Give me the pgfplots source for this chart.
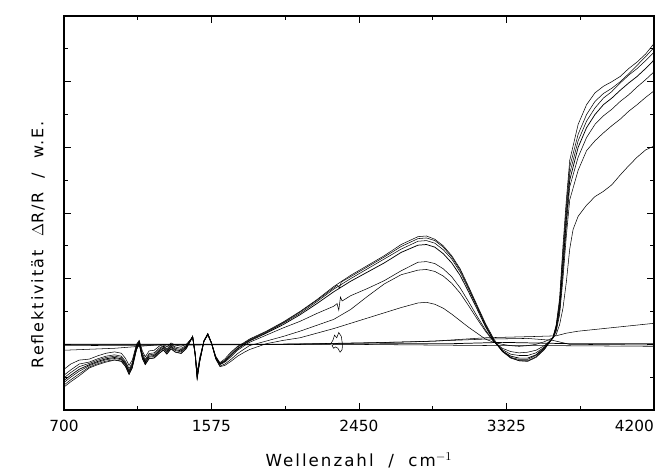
\documentclass[border=0pt]{standalone}
\usepackage{fontspec}
\setmainfont{DejaVu Sans}
\usepackage{pgfplots}
\pgfplotsset{compat=1.18}
\begin{document}
\begin{tikzpicture}
\path[use as bounding box] (-48pt,-46.5pt) rectangle (445.5pt,307.5pt);
\begin{axis}[
  at={(0pt,0pt)}, anchor=south west,
  scale only axis, width=442.5pt, height=295.5pt,
  xmin=700, xmax=4200, ymin=-1, ymax=5,
  xtick={700,1575,2450,3325,4200},
  xticklabels={700,1575,2450,3325,4200\hphantom{4200}},
  minor xtick={1137.5,2012.5,2887.5,3762.5},
  ytick={0,1,2,3,4}, minor ytick={-0.5,0.5,1.5,2.5,3.5,4.5},
  yticklabels={},
  tick align=inside,
  major tick length=5pt, minor tick length=3pt,
  /pgf/number format/assume math mode=true,
  xticklabel style={font=\fontsize{11.5}{13}\selectfont, yshift=-4pt},
  axis line style={line width=0.8pt},
  every tick/.style={black, line width=0.6pt},
  xlabel={Wellenzahl\ \ /\ \ cm$^{-1}$},
  ylabel={Reflektivität\ \ $\Delta$R/R\ \ /\ \ w.E.},
  xlabel style={at={(axis description cs:0.5,-0.127)}, anchor=center, font=\fontsize{12.5}{14}\selectfont\addfontfeature{LetterSpace=12}},
  ylabel style={at={(axis description cs:-0.044,0.42)}, anchor=center, font=\fontsize{12}{14}\selectfont\addfontfeature{LetterSpace=12}},
  cycle list={{black, solid, no markers, line width=0.55pt}},
  clip=true,
]
% c1
\addplot coordinates {(700,-0.65)(740,-0.57)(790,-0.48)(850,-0.36)(900,-0.31)(950,-0.27)(1000,-0.24)(1040,-0.26)(1065,-0.34)(1086,-0.46)(1105,-0.36)(1130,-0.08)(1146,0.01)(1165,-0.22)(1182,-0.31)(1205,-0.22)(1235,-0.21)(1264,-0.14)(1290,-0.09)(1310,-0.15)(1335,-0.07)(1360,-0.12)(1395,-0.14)(1425,-0.07)(1450,0.05)(1463,0.11)(1478,-0.17)(1490,-0.53)(1505,-0.27)(1530,0.04)(1553,0.15)(1575,0.02)(1600,-0.18)(1625,-0.28)(1655,-0.22)(1690,-0.12)(1730,-0.03)(1770,0.03)
(1800,0.08)(1900,0.2)(2000,0.34)(2100,0.5)(2200,0.68)(2300,0.88)(2400,1.05)(2500,1.2)(2600,1.35)(2700,1.52)(2800,1.64)(2850,1.65)(2900,1.6)(2950,1.5)(3000,1.35)(3050,1.15)(3100,0.88)(3150,0.6)(3200,0.32)(3250,0.08)(3300,-0.1)(3350,-0.2)(3400,-0.25)(3450,-0.26)(3500,-0.2)(3550,-0.08)(3600,0.1)(3620,0.3)(3640,0.7)(3660,1.5)(3680,2.2)
(3700,2.8)(3750,3.35)(3800,3.65)(3850,3.83)(3900,3.93)(3950,4.0)(4000,4.08)(4050,4.2)(4100,4.3)(4150,4.42)(4200,4.58)};
% c2
\addplot coordinates {(700,-0.62)(740,-0.54)(790,-0.45)(850,-0.345)(900,-0.295)(950,-0.255)(1000,-0.235)(1040,-0.255)(1065,-0.335)(1086,-0.455)(1105,-0.355)(1130,-0.085)(1146,0.0)(1165,-0.215)(1182,-0.305)(1205,-0.215)(1235,-0.205)(1264,-0.135)(1290,-0.085)(1310,-0.145)(1335,-0.065)(1360,-0.115)(1395,-0.135)(1425,-0.06)(1450,0.05)(1463,0.12)(1478,-0.16)(1490,-0.52)(1505,-0.26)(1530,0.05)(1553,0.16)(1575,0.02)(1600,-0.19)(1625,-0.29)(1655,-0.24)(1690,-0.14)(1730,-0.04)(1770,0.02)
(1800,0.07)(1900,0.19)(2000,0.33)(2100,0.49)(2200,0.67)(2300,0.86)(2320,0.9)(2334,0.86)(2345,0.95)(2400,1.03)(2500,1.18)(2600,1.33)(2700,1.49)(2800,1.61)(2850,1.62)(2900,1.58)(2950,1.48)(3000,1.33)(3050,1.13)(3100,0.86)(3150,0.58)(3200,0.3)(3250,0.06)(3300,-0.11)(3350,-0.21)(3400,-0.25)(3450,-0.25)(3500,-0.19)(3550,-0.07)(3600,0.1)(3620,0.28)(3640,0.65)(3660,1.4)(3680,2.1)
(3700,2.7)(3750,3.2)(3800,3.5)(3850,3.7)(3900,3.82)(3950,3.9)(4000,4.0)(4050,4.12)(4100,4.25)(4150,4.38)(4200,4.52)};
% c3
\addplot coordinates {(700,-0.58)(740,-0.5)(790,-0.41)(850,-0.325)(900,-0.275)(950,-0.235)(1000,-0.215)(1040,-0.235)(1065,-0.315)(1086,-0.435)(1105,-0.335)(1130,-0.065)(1146,0.02)(1165,-0.195)(1182,-0.285)(1205,-0.195)(1235,-0.185)(1264,-0.115)(1290,-0.065)(1310,-0.125)(1335,-0.045)(1360,-0.095)(1395,-0.115)(1425,-0.05)(1450,0.06)(1463,0.12)(1478,-0.15)(1490,-0.5)(1505,-0.25)(1530,0.05)(1553,0.16)(1575,0.02)(1600,-0.2)(1625,-0.3)(1655,-0.25)(1690,-0.16)(1730,-0.06)(1770,0.01)
(1800,0.06)(1900,0.18)(2000,0.32)(2100,0.47)(2200,0.65)(2300,0.84)(2400,1.0)(2500,1.15)(2600,1.3)(2700,1.45)(2800,1.57)(2850,1.58)(2900,1.54)(2950,1.44)(3000,1.3)(3050,1.1)(3100,0.84)(3150,0.57)(3200,0.29)(3250,0.06)(3300,-0.1)(3350,-0.2)(3400,-0.23)(3450,-0.23)(3500,-0.17)(3550,-0.06)(3600,0.1)(3620,0.26)(3640,0.6)(3660,1.3)(3680,2.0)
(3700,2.6)(3750,3.1)(3800,3.4)(3850,3.6)(3900,3.75)(3950,3.85)(4000,3.98)(4050,4.1)(4100,4.2)(4150,4.32)(4200,4.45)};
% c4
\addplot coordinates {(700,-0.55)(740,-0.47)(790,-0.38)(850,-0.31)(900,-0.26)(950,-0.22)(1000,-0.2)(1040,-0.22)(1065,-0.3)(1086,-0.42)(1105,-0.32)(1130,-0.05)(1146,0.03)(1165,-0.18)(1182,-0.27)(1205,-0.18)(1235,-0.17)(1264,-0.1)(1290,-0.05)(1310,-0.11)(1335,-0.03)(1360,-0.08)(1395,-0.1)(1425,-0.04)(1450,0.06)(1463,0.12)(1478,-0.15)(1490,-0.5)(1505,-0.25)(1530,0.05)(1553,0.16)(1575,0.02)(1600,-0.2)(1625,-0.3)(1655,-0.26)(1690,-0.17)(1730,-0.07)(1770,0.0)
(1800,0.05)(1900,0.17)(2000,0.3)(2100,0.45)(2200,0.62)(2300,0.8)(2400,0.96)(2500,1.1)(2600,1.24)(2700,1.4)(2800,1.51)(2850,1.52)(2900,1.48)(2950,1.38)(3000,1.24)(3050,1.05)(3100,0.8)(3150,0.54)(3200,0.27)(3250,0.05)(3300,-0.1)(3350,-0.18)(3400,-0.21)(3450,-0.21)(3500,-0.16)(3550,-0.05)(3600,0.1)(3620,0.25)(3640,0.55)(3660,1.2)(3680,1.9)
(3700,2.5)(3750,3.0)(3800,3.3)(3850,3.5)(3900,3.65)(3950,3.75)(4000,3.87)(4050,3.98)(4100,4.08)(4150,4.2)(4200,4.33)};
% c5
\addplot coordinates {(700,-0.51)(740,-0.43)(790,-0.34)(850,-0.29)(900,-0.24)(950,-0.2)(1000,-0.18)(1040,-0.2)(1065,-0.28)(1086,-0.4)(1105,-0.3)(1130,-0.03)(1146,0.05)(1165,-0.16)(1182,-0.25)(1205,-0.16)(1235,-0.15)(1264,-0.08)(1290,-0.03)(1310,-0.09)(1335,-0.01)(1360,-0.06)(1395,-0.08)(1425,-0.03)(1450,0.06)(1463,0.12)(1478,-0.15)(1490,-0.5)(1505,-0.25)(1530,0.05)(1553,0.16)(1575,0.02)(1600,-0.21)(1625,-0.31)(1655,-0.27)(1690,-0.19)(1730,-0.09)(1770,-0.02)
(1800,0.03)(1900,0.14)(2000,0.25)(2100,0.35)(2200,0.47)(2300,0.58)(2320,0.62)(2330,0.52)(2340,0.72)(2350,0.66)(2400,0.74)(2500,0.85)(2600,0.97)(2700,1.12)(2800,1.25)(2850,1.26)(2900,1.23)(2950,1.15)(3000,1.03)(3050,0.86)(3100,0.65)(3150,0.43)(3200,0.22)(3250,0.04)(3300,-0.08)(3350,-0.15)(3400,-0.17)(3450,-0.17)(3500,-0.13)(3550,-0.04)(3600,0.1)(3620,0.22)(3640,0.5)(3660,1.1)(3680,1.8)
(3700,2.4)(3750,2.85)(3800,3.15)(3850,3.35)(3900,3.48)(3950,3.58)(4000,3.7)(4050,3.8)(4100,3.92)(4150,4.03)(4200,4.15)};
% c6
\addplot coordinates {(700,-0.47)(740,-0.39)(790,-0.3)(850,-0.27)(900,-0.22)(950,-0.18)(1000,-0.16)(1040,-0.18)(1065,-0.26)(1086,-0.37)(1105,-0.28)(1130,-0.02)(1146,0.05)(1165,-0.14)(1182,-0.23)(1205,-0.14)(1235,-0.13)(1264,-0.06)(1290,-0.02)(1310,-0.07)(1335,0.0)(1360,-0.04)(1395,-0.06)(1425,-0.02)(1450,0.07)(1463,0.12)(1478,-0.14)(1490,-0.47)(1505,-0.23)(1530,0.05)(1553,0.15)(1575,0.02)(1600,-0.22)(1625,-0.33)(1655,-0.3)(1690,-0.23)(1730,-0.14)(1770,-0.07)
(1800,-0.02)(1900,0.05)(2000,0.12)(2100,0.2)(2200,0.29)(2300,0.38)(2400,0.53)(2500,0.73)(2600,0.92)(2700,1.06)(2800,1.13)(2850,1.14)(2900,1.11)(2950,1.04)(3000,0.93)(3050,0.78)(3100,0.59)(3150,0.39)(3200,0.2)(3250,0.04)(3300,-0.06)(3350,-0.11)(3400,-0.13)(3450,-0.12)(3500,-0.09)(3550,-0.02)(3600,0.09)(3620,0.2)(3640,0.45)(3660,1.0)(3680,1.65)
(3700,2.2)(3750,2.65)(3800,2.95)(3850,3.1)(3900,3.22)(3950,3.33)(4000,3.43)(4050,3.55)(4100,3.65)(4150,3.76)(4200,3.86)};
% c7
\addplot coordinates {(700,-0.38)(740,-0.3)(790,-0.24)(850,-0.225)(900,-0.175)(950,-0.135)(1000,-0.115)(1040,-0.135)(1065,-0.215)(1086,-0.32)(1105,-0.24)(1130,0.0)(1146,0.06)(1165,-0.1)(1182,-0.19)(1205,-0.1)(1235,-0.09)(1264,-0.03)(1290,0.0)(1310,-0.04)(1335,0.02)(1360,-0.01)(1395,-0.03)(1425,0.0)(1450,0.07)(1463,0.11)(1478,-0.12)(1490,-0.42)(1505,-0.2)(1530,0.05)(1553,0.14)(1575,0.01)(1600,-0.22)(1625,-0.34)(1655,-0.32)(1690,-0.26)(1730,-0.18)(1770,-0.12)
(1800,-0.08)(1900,0.01)(2000,0.06)(2100,0.1)(2200,0.17)(2300,0.24)(2400,0.32)(2500,0.4)(2600,0.48)(2700,0.56)(2800,0.63)(2850,0.64)(2900,0.61)(2950,0.55)(3000,0.46)(3050,0.36)(3100,0.26)(3150,0.17)(3200,0.08)(3250,0.03)(3300,0.0)(3350,-0.02)(3400,-0.03)(3450,-0.02)(3500,0.0)(3550,0.04)(3600,0.1)(3620,0.15)(3640,0.3)(3660,0.55)(3680,0.95)
(3700,1.45)(3720,1.75)(3750,1.95)(3800,2.12)(3850,2.25)(3900,2.33)(3950,2.43)(4000,2.58)(4050,2.72)(4100,2.85)(4150,2.96)(4200,3.02)};
% baselines
\addplot coordinates {(700,0.0)(1500,0.0)(3000,0.01)(3300,0.03)(3500,0.02)(3700,0.01)(4200,0.01)};
\addplot coordinates {(700,-0.09)(800,-0.08)(900,-0.07)(1000,-0.06)(1100,-0.04)(1200,-0.02)(1300,0.0)(2000,0.0)(2800,0.04)(3200,0.08)(3450,0.09)(3600,0.06)(3700,0.0)(4200,-0.01)};
\addplot coordinates {(700,0.0)(2000,0.0)(2500,0.02)(2900,0.05)(3200,0.1)(3500,0.12)(3620,0.13)(3680,0.17)(3750,0.2)(3900,0.24)(4050,0.28)(4200,0.32)};
\addplot coordinates {(700,-0.02)(1500,-0.01)(2280,0.0)(2295,0.06)(2305,0.14)(2318,0.1)(2330,0.18)(2345,0.12)(2352,0.0)(2350,-0.08)(2338,-0.12)(2325,-0.06)(2310,-0.04)(2300,-0.06)(2290,-0.02)(2300,0.0)(2380,0.0)(3300,-0.02)(3600,-0.02)(4200,-0.03)};
\end{axis}
\end{tikzpicture}
\end{document}
